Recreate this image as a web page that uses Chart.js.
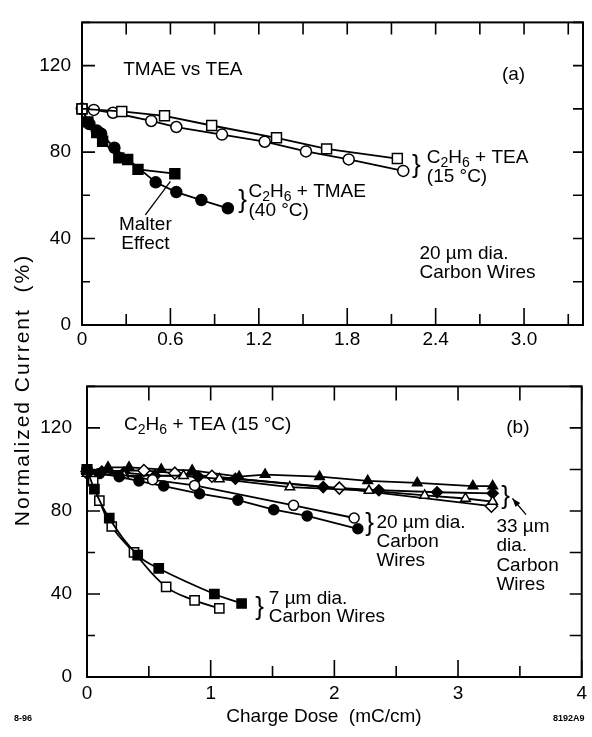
<!DOCTYPE html>
<html>
<head>
<meta charset="utf-8">
<script src="https://cdn.jsdelivr.net/npm/chart.js@4.4.1/dist/chart.umd.min.js"></script>
<style>
  body { margin: 0; background: #fff; width: 592px; height: 737px; position: relative; overflow: hidden;
         font-family: "Liberation Sans", Arial, sans-serif; color: #000; }
  canvas { position: absolute; left: 0; }
  #chartA { top: 0; }
  #chartB { top: 360px; }
  .lbl { position: absolute; white-space: nowrap; }
  #ytitle { width: 400px; left: -178px; top: 378px; text-align: center; font-size: 21px; line-height: 24px;
            letter-spacing: 2px; transform: rotate(-90deg); }
  #xtitle { width: 300px; left: 174px; top: 705px; text-align: center; font-size: 19px; line-height: 22px; }
  .foot { font-size: 9px; font-weight: bold; top: 713px; }
</style>
</head>
<body>
<canvas id="chartA" width="592" height="360"></canvas>
<canvas id="chartB" width="592" height="360"></canvas>
<div class="lbl" id="ytitle">Normalized Current&nbsp; (%)</div>
<div class="lbl" id="xtitle">Charge Dose&nbsp; (mC/cm)</div>
<div class="lbl foot" style="left:14px">8-96</div>
<div class="lbl foot" style="left:553px">8192A9</div>
<script>
var FONT = '"Liberation Sans", Arial, sans-serif';

/* ------------------
  panel (a) data  [charge dose, current %]
-------------------*/
var teaSquaresA = [[0,100],[0.27,98.8],[0.56,96.8],[0.88,92.3],[1.32,86.6],[1.66,81.5],[2.14,77]];
var teaCirclesA = [[0,100],[0.08,99.5],[0.21,98.2],[0.47,94.4],[0.64,91.6],[0.95,88.1],[1.24,84.8],[1.52,80.3],[1.81,76.6],[2.18,71.3]];
var tmaeCirclesA = [[0,100],[0.05,93],[0.1,90],[0.13,88.5],[0.22,82],[0.5,66],[0.64,61.5],[0.81,57.8],[0.99,54]];
var malterSquaresA = [[0,100],[0.04,94],[0.1,89],[0.14,85],[0.25,77.3],[0.31,76.6],[0.38,72],[0.63,70]];

/* ------------------
  panel (b) data
-------------------*/
var tri33Filled = [[0,99],[0.17,101],[0.34,101],[0.6,100],[0.85,99.5],[1.23,96.5],[1.44,97.5],[1.88,96.5],[2.27,94.5],[2.67,93.5],[3.12,92],[3.28,92]];
var dia33Filled = [[0,98],[0.12,99],[0.3,98.5],[0.55,97],[0.9,96.5],[1.2,95.5],[1.91,91.5],[2.36,90],[2.83,89],[3.28,88.5]];
var tri33Open = [[0,98],[0.3,97],[0.78,97],[1.07,95.4],[1.64,91.5],[2.28,89.8],[2.73,87.5],[3.06,86],[3.28,84.5]];
var dia33Open = [[0,99],[0.46,99.5],[0.71,98.2],[1.01,96.7],[2.04,91],[3.27,82.3]];
var circ20Filled = [[0,100],[0.1,98],[0.26,96.5],[0.42,94.4],[0.62,92],[0.91,88.3],[1.22,85.2],[1.51,80.6],[1.78,77.6],[2.19,71.4]];
var circ20Open = [[0,100],[0.53,95],[0.87,92.3],[1.67,82.7],[2.16,76.6]];
var sq7Filled = [[0,100],[0.06,90.5],[0.18,76.5],[0.41,58.7],[0.58,52.3],[1.03,40],[1.25,35.4]];
var sq7Open = [[0,100],[0.05,94.4],[0.1,85],[0.2,72.5],[0.38,60],[0.64,43.4],[0.87,36.9],[1.07,33.1]];

// axis ranges and tick steps
var xMaxA = 3.4, xStepA = 0.3;
var xMaxB = 4, xStepB = 0.5;
var yMax = 140, yStep = 20;

function series(pts, style, r, filled, tension) {
    return {
        data: pts.map(function (p) { return { x: p[0], y: p[1] }; }),
        showLine: true,
        borderColor: '#000',
        borderWidth: 1.8,
        pointStyle: style,
        pointRadius: r,
        pointBackgroundColor: filled ? '#000' : '#fff',
        pointBorderColor: '#000',
        pointBorderWidth: 1.5,
        tension: tension || 0,
        clip: false
    };
}

// text with "_" parts drawn as subscripts
function rich(ctx, x, y, parts, size, align) {
    var w = 0;
    parts.forEach(function (p) {
        var sub = p[0] === '_';
        ctx.font = (sub ? Math.round(size * 0.72) : size) + 'px ' + FONT;
        w += ctx.measureText(sub ? p.slice(1) : p).width;
    });
    var cx = align === 'center' ? x - w / 2 : x;
    parts.forEach(function (p) {
        var sub = p[0] === '_';
        var s = sub ? p.slice(1) : p;
        ctx.font = (sub ? Math.round(size * 0.72) : size) + 'px ' + FONT;
        ctx.fillText(s, cx, y + (sub ? size * 0.28 : 0));
        cx += ctx.measureText(s).width;
    });
}

// frame, inward ticks and notes
function framePlugin(tk, notes) {
    return {
        id: 'frame',
        afterDraw: function (chart) {
            var ctx = chart.ctx, a = chart.chartArea, x = chart.scales.x, y = chart.scales.y;
            ctx.save();
            ctx.strokeStyle = '#000';
            ctx.fillStyle = '#000';
            ctx.lineWidth = 2;
            ctx.strokeRect(a.left, a.top, a.right - a.left, a.bottom - a.top);
            ctx.lineWidth = 1.6;
            ctx.beginPath();
            x.ticks.forEach(function (t) {
                var px = x.getPixelForValue(t.value);
                var big = t.label !== '';
                ctx.moveTo(px, a.bottom); ctx.lineTo(px, a.bottom - (big ? tk.bMaj : tk.bMin));
                ctx.moveTo(px, a.top); ctx.lineTo(px, a.top + tk.top);
            });
            y.ticks.forEach(function (t) {
                var py = y.getPixelForValue(t.value);
                var big = t.label !== '';
                ctx.moveTo(a.left, py); ctx.lineTo(a.left + (big ? tk.lMaj : tk.lMin), py);
                ctx.moveTo(a.right, py); ctx.lineTo(a.right - tk.right, py);
            });
            ctx.stroke();

            ctx.textBaseline = 'middle';
            ctx.textAlign = 'left';
            notes.forEach(function (n) {
                if (n.line) {
                    var x1 = x.getPixelForValue(n.line[0]), y1 = y.getPixelForValue(n.line[1]);
                    var x2 = x.getPixelForValue(n.line[2]), y2 = y.getPixelForValue(n.line[3]);
                    ctx.lineWidth = 1.3;
                    ctx.beginPath(); ctx.moveTo(x1, y1); ctx.lineTo(x2, y2); ctx.stroke();
                    if (n.head) {
                        var ang = Math.atan2(y2 - y1, x2 - x1);
                        ctx.beginPath();
                        ctx.moveTo(x2, y2);
                        ctx.lineTo(x2 - 9 * Math.cos(ang - 0.35), y2 - 9 * Math.sin(ang - 0.35));
                        ctx.lineTo(x2 - 9 * Math.cos(ang + 0.35), y2 - 9 * Math.sin(ang + 0.35));
                        ctx.closePath(); ctx.fill();
                    }
                    return;
                }
                rich(ctx, x.getPixelForValue(n.x), y.getPixelForValue(n.y), n.t, n.size || 19, n.align);
            });
            ctx.restore();
        }
    };
}

function labelEvery(step) {
    return function (v) {
        var k = Math.round(v / step);
        return k % 2 === 0 ? v : '';
    };
}

function makePanel(id, o) {
    return new Chart(document.getElementById(id), {
        type: 'scatter',
        data: { datasets: o.sets },
        options: {
            responsive: false,
            animation: false,
            layout: { padding: o.pad },
            plugins: { legend: { display: false }, tooltip: { enabled: false } },
            scales: {
                x: {
                    type: 'linear', min: 0, max: o.xMax,
                    afterFit: function (s) { s.height = o.xH; },
                    grid: { display: false, drawTicks: false }, border: { display: false },
                    ticks: { stepSize: o.xStep, includeBounds: false, autoSkip: false, maxRotation: 0,
                             padding: o.xPad, color: '#000', font: { size: 19, family: FONT },
                             callback: o.xLabel }
                },
                y: {
                    type: 'linear', min: 0, max: yMax,
                    afterFit: function (s) { s.width = o.yW; },
                    grid: { display: false, drawTicks: false }, border: { display: false },
                    ticks: { stepSize: yStep, autoSkip: false, padding: o.yPad, color: '#000',
                             font: { size: 19, family: FONT }, callback: labelEvery(yStep) }
                }
            }
        },
        plugins: [framePlugin(o.tk, o.notes)]
    });
}

/* ------------------
  panel (a)
-------------------*/
makePanel('chartA', {
    sets: [
        series(teaSquaresA, 'rect', 7, false),
        series(teaCirclesA, 'circle', 5.5, false),
        series(malterSquaresA, 'rect', 7, true),
        series(tmaeCirclesA, 'circle', 5.5, true)
    ],
    pad: { top: 12, right: 9, left: 0, bottom: 0 },
    xMax: xMaxA, xStep: xStepA, xH: 35, xPad: 3, yW: 82, yPad: 11,
    xLabel: function (v) {
        var k = Math.round(v / xStepA);
        if (k % 2 !== 0) return '';
        return k === 0 ? '0' : (k * xStepA).toFixed(1);
    },
    tk: { bMaj: 17, bMin: 11, top: 12, lMaj: 13, lMin: 8, right: 10 },
    notes: [
        { x: 0.28, y: 118, t: ['TMAE vs TEA'] },
        { x: 2.85, y: 116, t: ['(a)'] },
        { x: 2.24, y: 73.5, t: ['}'], size: 26 },
        { x: 2.34, y: 77.5, t: ['C', '_2', 'H', '_6', ' + TEA'] },
        { x: 2.34, y: 68.5, t: ['(15 \u00B0C)'] },
        { x: 1.06, y: 57.5, t: ['}'], size: 26 },
        { x: 1.13, y: 61.7, t: ['C', '_2', 'H', '_6', ' + TMAE'] },
        { x: 1.13, y: 53, t: ['(40 \u00B0C)'] },
        { x: 0.43, y: 46.4, t: ['Malter'], align: 'center' },
        { x: 0.43, y: 37.4, t: ['Effect'], align: 'center' },
        { line: [0.43, 51, 0.6, 66.5] },
        { x: 2.29, y: 32.9, t: ['20 \u00B5m dia.'] },
        { x: 2.29, y: 24.3, t: ['Carbon Wires'] }
    ]
});

/* ------------------
  panel (b)
-------------------*/
makePanel('chartB', {
    sets: [
        series(sq7Filled, 'rect', 6.5, true, 0.4),
        series(sq7Open, 'rect', 6.5, false, 0.4),
        series(circ20Open, 'circle', 5, false),
        series(circ20Filled, 'circle', 5, true),
        series(tri33Open, 'triangle', 5.5, false),
        series(dia33Open, 'rectRot', 6, false),
        series(dia33Filled, 'rectRot', 5.5, true),
        series(tri33Filled, 'triangle', 5.5, true)
    ],
    pad: { top: 10, right: 0, left: 0, bottom: 0 },
    xMax: xMaxB, xStep: xStepB, xH: 43, xPad: 5, yW: 87, yPad: 15,
    xLabel: function (v) {
        var k = Math.round(v / xStepB);
        return k % 2 === 0 ? String(k / 2) : '';
    },
    tk: { bMaj: 17, bMin: 11, top: 14, lMaj: 13, lMin: 8, right: 12 },
    notes: [
        { x: 0.30, y: 121.4, t: ['C', '_2', 'H', '_6', ' + TEA (15 \u00B0C)'] },
        { x: 3.39, y: 120, t: ['(b)'] },
        { x: 2.25, y: 74, t: ['}'], size: 26 },
        { x: 2.34, y: 74.5, t: ['20 \u00B5m dia.'] },
        { x: 2.34, y: 65.3, t: ['Carbon'] },
        { x: 2.34, y: 56, t: ['Wires'] },
        { x: 3.35, y: 87, t: ['}'], size: 26 },
        { line: [3.55, 78.2, 3.44, 86], head: true },
        { x: 3.31, y: 72.2, t: ['33 \u00B5m'] },
        { x: 3.31, y: 63, t: ['dia.'] },
        { x: 3.31, y: 53.8, t: ['Carbon'] },
        { x: 3.31, y: 44.6, t: ['Wires'] },
        { x: 1.36, y: 33.5, t: ['}'], size: 26 },
        { x: 1.47, y: 37.7, t: ['7 \u00B5m dia.'] },
        { x: 1.47, y: 29, t: ['Carbon Wires'] }
    ]
});
</script>
</body>
</html>
